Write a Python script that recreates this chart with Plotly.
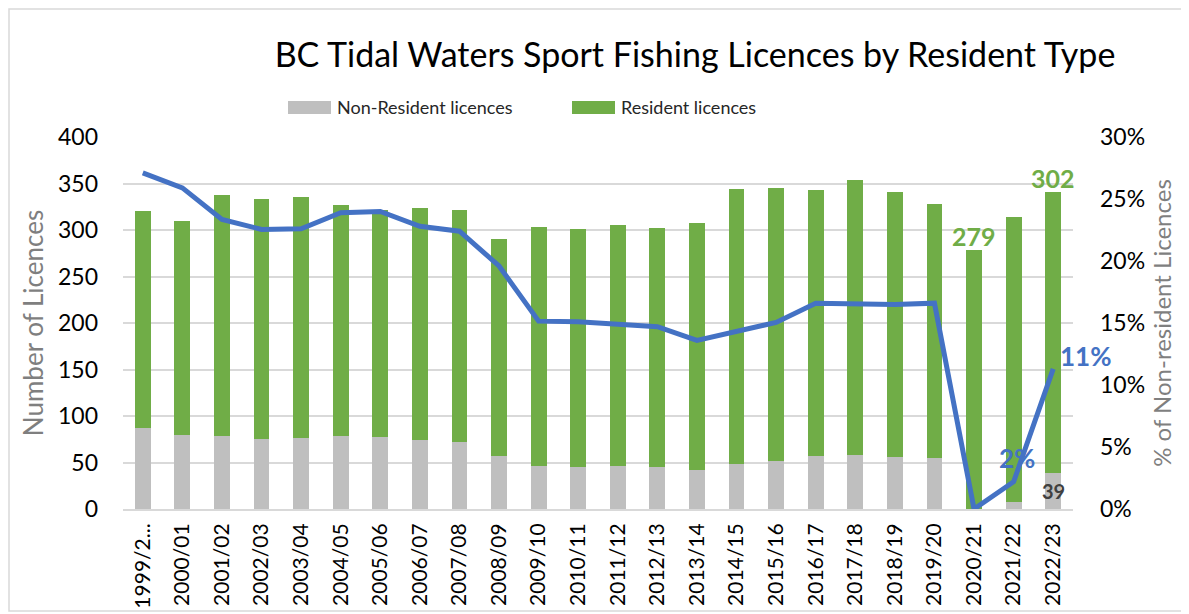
import plotly.graph_objects as go
from plotly.subplots import make_subplots

categories = ["1999/2000", "2000/01", "2001/02", "2002/03", "2003/04", "2004/05",
              "2005/06", "2006/07", "2007/08", "2008/09", "2009/10", "2010/11",
              "2011/12", "2012/13", "2013/14", "2014/15", "2015/16", "2016/17",
              "2017/18", "2018/19", "2019/20", "2020/21", "2021/22", "2022/23"]
tick_labels = ["1999/2...", "2000/01", "2001/02", "2002/03", "2003/04", "2004/05",
               "2005/06", "2006/07", "2007/08", "2008/09", "2009/10", "2010/11",
               "2011/12", "2012/13", "2013/14", "2014/15", "2015/16", "2016/17",
               "2017/18", "2018/19", "2019/20", "2020/21", "2021/22", "2022/23"]
non_resident = [87, 80, 79, 75, 76, 78, 77, 74, 72, 57, 46, 45,
                46, 45, 42, 48, 52, 57, 58, 56, 55, 0, 7, 39]
resident = [233, 230, 259, 258, 260, 249, 244, 250, 250, 233, 257, 256,
            259, 257, 265, 296, 293, 286, 296, 285, 273, 279, 307, 302]
pct_non_resident = [27.1, 25.9, 23.35, 22.55, 22.6, 23.9, 24.0, 22.8, 22.4, 19.6, 15.15, 15.1,
                    14.9, 14.7, 13.6, 14.3, 15.05, 16.6, 16.5, 16.5, 16.6, 0.0, 2.2, 11.3]

FONT = "Lato"
GREY = "#BFBFBF"
GREEN = "#70AD47"
BLUE = "#4472C4"

# page offset (body margin) compensation
OFF = 8
W, H = 1189 - OFF, 614 - OFF
L, T = 123 - OFF, 137 - OFF
R, B = 1189 - 1073, 614 - 509
PW, PH = W - L - R, H - T - B


def px_x(px):
    # page pixel -> paper x
    return (px - 123) / PW


def px_y(py):
    # page pixel -> paper y
    return (509 - py) / PH


fig = make_subplots(specs=[[{"secondary_y": True}]])
fig.add_trace(go.Bar(x=categories, y=non_resident, name="Non-Resident licences",
                     marker=dict(color=GREY, line=dict(width=0)), showlegend=False),
              secondary_y=False)
fig.add_trace(go.Bar(x=categories, y=resident, name="Resident licences",
                     marker=dict(color=GREEN, line=dict(width=0)), showlegend=False),
              secondary_y=False)
fig.add_trace(go.Scatter(x=categories, y=[p / 100 for p in pct_non_resident],
                         name="% of Non-resident Licences", mode="lines",
                         line=dict(color=BLUE, width=5), showlegend=False),
              secondary_y=True)

annotations = []
for i in (21, 23):
    annotations.append(dict(x=categories[i], y=non_resident[i] + resident[i], xref="x", yref="y",
                            text=f"<b>{resident[i]}</b>", showarrow=False, yanchor="bottom",
                            yshift=-3, font=dict(family=FONT, size=25, color=GREEN)))
annotations.append(dict(x=categories[23], y=non_resident[23] / 2, xref="x", yref="y",
                        text=f"<b>{non_resident[23]}</b>", showarrow=False,
                        font=dict(family=FONT, size=20, color="#404040")))
annotations.append(dict(x=categories[22], y=pct_non_resident[22] / 100, xref="x", yref="y2",
                        text=f"<b>{round(pct_non_resident[22])}%</b>", showarrow=False,
                        yanchor="bottom", yshift=6, xshift=3,
                        font=dict(family=FONT, size=26, color=BLUE)))
annotations.append(dict(x=categories[23], y=pct_non_resident[23] / 100, xref="x", yref="y2",
                        text=f"<b>{round(pct_non_resident[23])}%</b>", showarrow=False,
                        xanchor="left", xshift=5, yshift=13,
                        font=dict(family=FONT, size=26, color=BLUE)))

# custom legend
legend_items = [("Non-Resident licences", GREY, 288), ("Resident licences", GREEN, 572)]
shapes = []
for label, color, x0 in legend_items:
    shapes.append(dict(type="rect", xref="paper", yref="paper",
                       x0=px_x(x0), x1=px_x(x0 + 43), y0=px_y(114), y1=px_y(101),
                       fillcolor=color, line=dict(width=0)))
    annotations.append(dict(x=px_x(x0 + 47), y=px_y(107), xref="paper", yref="paper",
                            text=label, showarrow=False, xanchor="left", yanchor="middle",
                            font=dict(family=FONT, size=18, color="#262626")))
# outer frame
shapes.append(dict(type="rect", xref="paper", yref="paper",
                   x0=px_x(9), x1=px_x(1187), y0=px_y(611), y1=px_y(9),
                   line=dict(color="#D9D9D9", width=1.5), fillcolor="rgba(0,0,0,0)", layer="below"))

fig.update_layout(
    width=W, height=H,
    margin=dict(l=L, r=R, t=T, b=B, autoexpand=False),
    paper_bgcolor="white", plot_bgcolor="white",
    barmode="stack", bargap=0.6,
    title=dict(text="BC Tidal Waters Sport Fishing Licences by Resident Type",
               x=px_x(695), xref="paper", xanchor="center", y=1 - (55 - OFF) / H, yanchor="middle",
               font=dict(family=FONT, size=34, color="#000000")),
    font=dict(family=FONT, color="#000000"),
    annotations=annotations, shapes=shapes,
    showlegend=False,
)
fig.update_xaxes(domain=[0, 1], automargin=False, tickmode="array", tickvals=categories,
                 ticktext=tick_labels, range=[-0.5, len(categories) - 0.5],
                 tickangle=-90, tickfont=dict(family=FONT, size=21, color="#000000"),
                 showline=True, linecolor="#D9D9D9", linewidth=2, showgrid=False,
                 ticks="", ticklabelstandoff=4)
fig.update_yaxes(range=[0, 400], dtick=50, showgrid=True, gridcolor="#D9D9D9", gridwidth=1.5,
                 automargin=False,
                 zeroline=False, ticks="", tickfont=dict(family=FONT, size=23, color="#000000"),
                 ticklabelstandoff=24,
                 title=dict(text="Number of Licences", font=dict(family=FONT, size=26, color="#7F7F7F"),
                            standoff=6),
                 secondary_y=False)
fig.update_yaxes(range=[0, 0.30], dtick=0.05, tickformat=".0%", showgrid=False, zeroline=False,
                 automargin=False,
                 ticks="", tickfont=dict(family=FONT, size=23, color="#000000"),
                 ticklabelstandoff=26,
                 title=dict(text="% of Non-resident Licences", font=dict(family=FONT, size=24, color="#7F7F7F"),
                            standoff=10),
                 secondary_y=True)

fig.write_html("out.html")
